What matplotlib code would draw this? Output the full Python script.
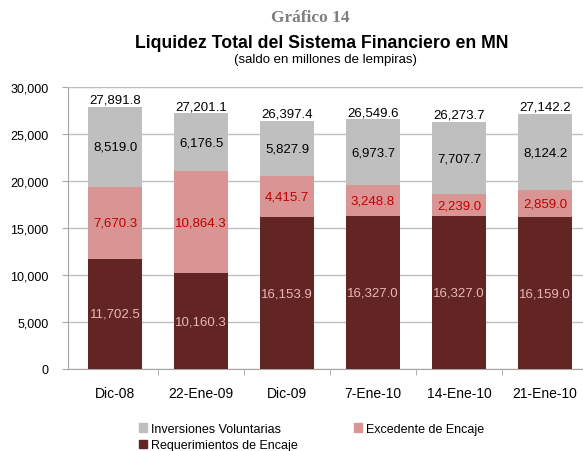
import matplotlib
matplotlib.use("Agg")
import matplotlib.pyplot as plt
import numpy as np
from matplotlib.patches import Patch

categories = ["Dic-08", "22-Ene-09", "Dic-09", "7-Ene-10", "14-Ene-10", "21-Ene-10"]
requerimientos = [11702.5, 10160.3, 16153.9, 16327.0, 16327.0, 16159.0]
excedente = [7670.3, 10864.3, 4415.7, 3248.8, 2239.0, 2859.0]
inversiones = [8519.0, 6176.5, 5827.9, 6973.7, 7707.7, 8124.2]
totales = [27891.8, 27201.1, 26397.4, 26549.6, 26273.7, 27142.2]
yticks = [0, 5000, 10000, 15000, 20000, 25000, 30000]

c_req = "#632523"
c_exc = "#D99594"
c_inv = "#BFBFBF"

plt.rcParams['font.family'] = ['Liberation Sans', 'DejaVu Sans']

fig = plt.figure(figsize=(5.83, 4.52), dpi=100)
ax = fig.add_axes([68/583, 1-370/452, 520/583, 282/452])

x = np.arange(len(categories))
w = 0.62
req = np.array(requerimientos)
exc = np.array(excedente)
inv = np.array(inversiones)
ax.bar(x, req, w, color=c_req, zorder=3)
ax.bar(x, exc, w, bottom=req, color=c_exc, zorder=3)
ax.bar(x, inv, w, bottom=req + exc, color=c_inv, zorder=3)

fs = 9.5
for i in range(len(x)):
    ax.text(x[i], req[i] / 2, f"{req[i]:,.1f}", ha="center", va="center", color="#E6B8B7", fontsize=fs, zorder=4)
    ax.text(x[i], req[i] + exc[i] / 2, f"{exc[i]:,.1f}", ha="center", va="center", color="#C00000", fontsize=fs, zorder=4)
    ax.text(x[i], req[i] + exc[i] + inv[i] / 2, f"{inv[i]:,.1f}", ha="center", va="center", color="black", fontsize=fs, zorder=4)
    ax.text(x[i], totales[i] + 120, f"{totales[i]:,.1f}", ha="center", va="bottom", color="black", fontsize=fs, zorder=4)

ax.set_xlim(-0.5 - 4/86, len(x) - 0.5)
ax.set_ylim(0, 30000)
ax.set_yticks(yticks)
ax.set_yticklabels([f"{v:,}" for v in yticks], fontsize=9)
ax.yaxis.grid(True, color="#BFBFBF", linewidth=1, zorder=0)
ax.set_xticks(x)
ax.set_xticklabels(categories, fontsize=10)
ax.tick_params(axis="x", length=0, pad=12)
ax.set_xticks(np.arange(0.5, len(x) - 0.5, 1), minor=True)
ax.tick_params(axis="x", which="minor", length=4, color="#A6A6A6")
ax.tick_params(axis="y", length=4, color="#A6A6A6", pad=10)
ax.spines["right"].set_visible(False)
ax.spines["top"].set_color("#BFBFBF")
ax.spines["left"].set_color("#A6A6A6")
ax.spines["bottom"].set_color("#A6A6A6")

fig.text(310/583, 1-18/452, "Gráfico 14", ha="center", va="center", fontsize=12.5,
         fontweight="bold", color="#7F7F7F", family=["Liberation Serif"])
fig.text(322/583, 1-44/452, "Liquidez Total del Sistema Financiero en MN", ha="center", va="center",
         fontsize=12.7, fontweight="bold")
fig.text(325/583, 1-60/452, "(saldo en millones de lempiras)", ha="center", va="center", fontsize=9.5)

h_inv = Patch(color=c_inv, label="Inversiones Voluntarias")
h_exc = Patch(color=c_exc, label="Excedente de Encaje")
h_req = Patch(color=c_req, label="Requerimientos de Encaje")
leg_kw = dict(frameon=False, fontsize=9, handlelength=0.65, handleheight=0.65, handletextpad=0.3,
              labelspacing=0.35, borderpad=0, borderaxespad=0)
fig.legend(handles=[h_inv, h_req], loc="upper left", bbox_to_anchor=(139/583, 1-424/452), **leg_kw)
fig.legend(handles=[h_exc], loc="upper left", bbox_to_anchor=(354/583, 1-424/452), **leg_kw)

fig.savefig("out.png", dpi=100)
